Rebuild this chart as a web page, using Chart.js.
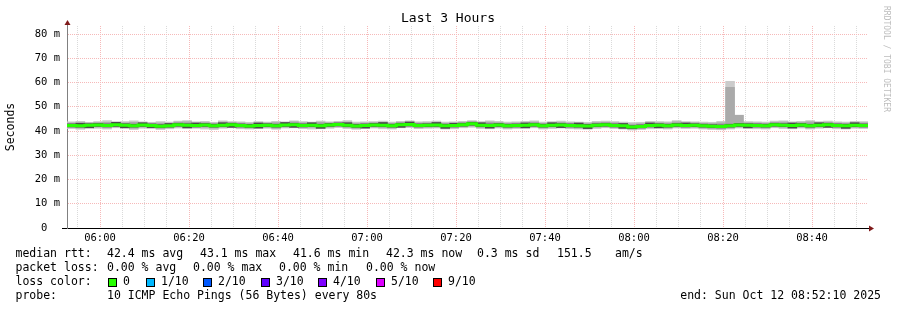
<!DOCTYPE html>
<html>
<head>
<meta charset="utf-8">
<script src="https://cdn.jsdelivr.net/npm/chart.js@4/dist/chart.umd.min.js"></script>
<style>
  html, body { margin: 0; padding: 0; background: #fff; }
  canvas { display: block; }
</style>
</head>
<body>
<canvas id="smokeChart" width="897" height="310"></canvas>
<script>
// time window (graph starts here, 3 hours long, one sample every 2 minutes)
const startTime = '05:52:35';
const spanMinutes = 180;
const stepMinutes = 2;
const xTickLabels = ['06:00', '06:20', '06:40', '07:00', '07:20', '07:40', '08:00', '08:20', '08:40'];
const yTickValues = [0, 10, 20, 30, 40, 50, 60, 70, 80];

// median rtt per step (ms)
const median = [
  42.3, 42.2, 42.4, 42.5, 42.3, 42.6, 42.4, 42.2, 42.5, 42.3,
  42.0, 42.2, 42.6, 42.4, 42.3, 42.5, 42.2, 42.4, 42.6, 42.3,
  42.1, 42.3, 42.4, 42.2, 42.5, 42.6, 42.3, 42.4, 42.2, 42.5,
  42.7, 42.4, 42.1, 42.3, 42.5, 42.4, 42.2, 42.6, 42.7, 42.3,
  42.4, 42.5, 42.2, 42.3, 42.6, 43.0, 42.4, 42.3, 42.5, 42.2,
  42.3, 42.4, 42.6, 42.2, 42.4, 42.5, 42.3, 42.2, 42.1, 42.4,
  42.6, 42.3, 42.2, 41.6, 41.9, 42.3, 42.4, 42.2, 42.5, 42.3,
  42.4, 42.2, 42.0, 41.9, 42.2, 42.5, 42.4, 42.3, 42.2, 42.6,
  42.4, 42.3, 42.5, 42.2, 42.4, 42.6, 42.3, 42.2, 42.4, 42.3
];
// smoke, outer (light): fastest / slowest ping per step (ms)
const smokeLow = [
  41.0, 40.7, 41.2, 41.1, 40.8, 41.3, 41.2, 40.6, 41.1, 41.0,
  40.6, 40.9, 41.2, 41.0, 41.1, 40.8, 40.6, 41.1, 41.3, 40.9,
  40.8, 41.0, 41.1, 40.7, 41.2, 41.3, 41.0, 40.8, 40.9, 41.1,
  41.4, 41.0, 40.7, 41.0, 41.2, 40.9, 40.8, 41.3, 41.4, 41.0,
  41.1, 41.2, 40.8, 40.9, 41.3, 41.5, 41.0, 40.9, 41.2, 40.8,
  41.0, 41.1, 41.3, 40.8, 41.0, 41.2, 40.9, 40.8, 40.7, 41.0,
  41.3, 41.0, 40.8, 40.4, 40.6, 40.9, 41.1, 40.8, 41.2, 41.0,
  41.1, 40.8, 40.6, 40.5, 40.8, 41.2, 41.0, 40.9, 40.8, 41.3,
  41.0, 40.9, 41.2, 40.8, 41.1, 41.3, 40.9, 40.8, 41.1, 41.0
];
const smokeHigh = [
  43.8, 44.0, 43.6, 43.9, 44.3, 43.8, 43.9, 44.2, 43.8, 43.6,
  43.9, 43.7, 44.1, 44.3, 43.8, 44.0, 43.6, 44.2, 43.9, 43.8,
  43.6, 43.9, 43.7, 44.0, 43.8, 44.2, 43.9, 43.7, 44.1, 43.8,
  44.0, 44.3, 43.7, 43.8, 43.9, 44.1, 43.7, 44.0, 44.2, 43.8,
  43.9, 44.1, 43.7, 43.8, 44.0, 44.3, 43.9, 44.2, 44.0, 43.7,
  43.8, 44.0, 44.2, 43.7, 43.9, 44.1, 43.8, 43.7, 43.6, 44.0,
  44.1, 43.9, 43.7, 43.5, 43.6, 44.0, 43.9, 43.8, 44.3, 43.9,
  43.8, 43.7, 43.6, 44.0, 60.5, 46.5, 43.9, 43.8, 43.7, 44.1,
  44.2, 43.8, 44.0, 44.3, 43.9, 44.1, 43.8, 43.7, 44.0, 43.9
];
// smoke, middle band
const midLow = [
  41.4, 41.2, 41.5, 41.6, 41.3, 41.7, 41.5, 41.1, 41.6, 41.4,
  41.0, 41.3, 41.7, 41.4, 41.4, 41.5, 41.2, 41.5, 41.7, 41.3,
  41.2, 41.4, 41.5, 41.1, 41.6, 41.7, 41.3, 41.5, 41.2, 41.6,
  41.8, 41.4, 41.1, 41.4, 41.6, 41.4, 41.2, 41.7, 41.8, 41.3,
  41.5, 41.6, 41.2, 41.3, 41.7, 42.0, 41.4, 41.3, 41.6, 41.2,
  41.4, 41.5, 41.7, 41.2, 41.5, 41.6, 41.3, 41.2, 41.1, 41.5,
  41.7, 41.4, 41.2, 40.8, 41.0, 41.4, 41.5, 41.2, 41.6, 41.4,
  41.5, 41.2, 41.0, 40.9, 41.2, 41.6, 41.5, 41.4, 41.2, 41.7,
  41.5, 41.4, 41.6, 41.2, 41.5, 41.7, 41.4, 41.2, 41.5, 41.4
];
const midHigh = [
  43.3, 43.4, 43.3, 43.5, 43.6, 43.5, 43.4, 43.6, 43.4, 43.2,
  43.3, 43.2, 43.7, 43.8, 43.3, 43.5, 43.2, 43.7, 43.5, 43.3,
  43.1, 43.4, 43.3, 43.5, 43.4, 43.8, 43.4, 43.3, 43.6, 43.4,
  43.6, 43.7, 43.2, 43.3, 43.5, 43.6, 43.2, 43.6, 43.8, 43.3,
  43.4, 43.6, 43.2, 43.3, 43.6, 43.9, 43.4, 43.7, 43.5, 43.2,
  43.3, 43.5, 43.7, 43.2, 43.4, 43.6, 43.3, 43.2, 43.1, 43.5,
  43.6, 43.4, 43.2, 42.9, 43.0, 43.5, 43.4, 43.3, 43.8, 43.4,
  43.4, 43.2, 43.1, 43.4, 58.0, 46.5, 43.4, 43.3, 43.2, 43.6,
  43.7, 43.3, 43.5, 43.8, 43.4, 43.6, 43.3, 43.2, 43.5, 43.4
];
// smoke, core (dark) band
const darkLow = [
  41.7, 41.6, 41.3, 41.9, 41.7, 41.9, 41.3, 41.6, 41.9, 41.4,
  41.4, 41.6, 42.0, 41.3, 41.7, 41.9, 41.6, 41.8, 41.5, 41.7,
  41.5, 41.2, 41.8, 41.6, 41.9, 41.5, 41.7, 41.8, 41.1, 41.9,
  42.1, 41.8, 41.5, 41.2, 41.9, 41.8, 41.6, 41.5, 42.1, 41.7,
  41.8, 41.9, 41.1, 41.7, 42.0, 42.4, 41.8, 41.2, 41.9, 41.6,
  41.7, 41.3, 42.0, 41.6, 41.8, 41.4, 41.7, 41.6, 41.0, 41.8,
  42.0, 41.7, 41.1, 41.0, 41.3, 41.7, 41.3, 41.6, 41.9, 41.7,
  41.8, 41.6, 41.4, 41.3, 41.6, 41.9, 41.3, 41.7, 41.6, 42.0,
  41.8, 41.2, 41.9, 41.6, 41.8, 41.5, 41.7, 41.1, 41.8, 41.7
];
const darkHigh = [
  42.9, 43.2, 43.0, 43.1, 42.9, 43.6, 43.0, 42.8, 43.4, 42.9,
  42.6, 43.1, 43.2, 43.0, 43.3, 43.1, 42.8, 43.4, 43.2, 42.9,
  42.7, 43.3, 43.0, 42.8, 43.5, 43.2, 42.9, 43.4, 42.8, 43.1,
  43.3, 43.4, 42.7, 42.9, 43.1, 43.5, 42.8, 43.2, 43.7, 42.9,
  43.0, 43.5, 42.8, 43.2, 43.2, 43.6, 43.4, 42.9, 43.1, 42.8,
  42.9, 43.3, 43.2, 42.8, 43.4, 43.1, 42.9, 43.3, 42.7, 43.0,
  43.2, 42.9, 43.1, 42.2, 42.5, 43.3, 43.0, 42.8, 43.1, 43.3,
  43.0, 42.8, 42.6, 42.5, 42.8, 43.1, 43.0, 42.9, 42.8, 43.2,
  43.0, 43.3, 43.1, 42.8, 43.4, 43.2, 42.9, 42.8, 43.4, 42.9
];

// legend texts
const rttStats = ['42.4 ms avg', '43.1 ms max', '41.6 ms min', '42.3 ms now', '0.3 ms sd', '151.5', 'am/s'];
const lossStats = ['0.00 % avg', '0.00 % max', '0.00 % min', '0.00 % now'];
const lossLevels = ['0', '1/10', '2/10', '3/10', '4/10', '5/10', '9/10'];
const lossColors = ['#26ff00', '#00b8ff', '#0059ff', '#5e00ff', '#7e00ff', '#dd00ff', '#ff0000'];
const probeText = '10 ICMP Echo Pings (56 Bytes) every 80s';
const endText = 'end: Sun Oct 12 08:52:10 2025';

const MONO = '"DejaVu Sans Mono", monospace';

function clockToMin(s) {
  const p = s.split(':').map(Number);
  return p[0] * 60 + p[1] + (p[2] || 0) / 60;
}
const startMin = clockToMin(startTime);

// grid every 5 minutes of clock time
const xGrid = [];
for (let m = Math.ceil(startMin / 5) * 5; m <= startMin + spanMinutes; m += 5) xGrid.push(m - startMin);
const labelAt = {};
xTickLabels.forEach(l => { labelAt[(clockToMin(l) - startMin).toFixed(3)] = l; });

const band = (lo, hi) => median.map((v, i) => ({ x: i * stepMinutes + stepMinutes / 2, y: [lo[i], hi[i]] }));
const medianPts = median.map((v, i) => ({ x: i * stepMinutes, y: v }));
medianPts.push({ x: spanMinutes, y: median[median.length - 1] });

const GRID_MAJOR = '#f6b9b9';
const GRID_MINOR = '#dadada';

const smokeStyle = { borderWidth: 0, grouped: false, barPercentage: 1, categoryPercentage: 1 };

const decor = {
  id: 'decor',
  afterDraw(chart) {
    const c = chart.ctx;
    const a = chart.chartArea;
    c.save();

    // axis extensions and arrows
    c.strokeStyle = '#808080';
    c.lineWidth = 1;
    c.beginPath();
    c.moveTo(a.left + 0.5, a.top);
    c.lineTo(a.left + 0.5, a.top - 4);
    c.stroke();
    c.strokeStyle = '#000';
    c.beginPath();
    c.moveTo(a.left - 5, a.bottom + 0.5);
    c.lineTo(a.left, a.bottom + 0.5);
    c.stroke();

    c.fillStyle = '#7f1a1a';
    c.beginPath();
    c.moveTo(a.left + 0.5, a.top - 6);
    c.lineTo(a.left - 2.5, a.top - 1);
    c.lineTo(a.left + 3.5, a.top - 1);
    c.closePath();
    c.fill();
    c.beginPath();
    c.moveTo(a.right + 6, a.bottom + 0.5);
    c.lineTo(a.right + 1, a.bottom - 2.5);
    c.lineTo(a.right + 1, a.bottom + 3.5);
    c.closePath();
    c.fill();

    // title
    c.fillStyle = '#000';
    c.textAlign = 'center';
    c.textBaseline = 'middle';
    c.font = '13px ' + MONO;
    c.fillText('Last 3 Hours', 448, 19);

    // y axis title
    c.save();
    c.translate(11, 127);
    c.rotate(-Math.PI / 2);
    c.font = '11.5px ' + MONO;
    c.fillText('Seconds', 0, 0);
    c.restore();

    // watermark
    c.save();
    c.translate(886, 59);
    c.rotate(Math.PI / 2);
    c.fillStyle = '#bdbdbd';
    c.font = '8px ' + MONO;
    c.fillText('RRDTOOL / TOBI OETIKER', 0, 0);
    c.restore();

    // legend
    c.textAlign = 'left';
    c.font = '11.5px ' + MONO;
    const y1 = 254.5, y2 = 268.5, y3 = 282.5, y4 = 296.5;
    c.fillText('median rtt:', 15.5, y1);
    [107, 200, 293, 386, 477, 557, 615].forEach((x, i) => c.fillText(rttStats[i], x, y1));
    c.fillText('packet loss:', 15.5, y2);
    [107, 193, 279, 366].forEach((x, i) => c.fillText(lossStats[i], x, y2));
    c.fillText('loss color:', 15.5, y3);
    [108, 146, 203, 261, 318, 376, 433].forEach((x, i) => {
      c.fillStyle = lossColors[i];
      c.fillRect(x, y3 - 4.5, 9, 9);
      c.strokeStyle = '#000';
      c.lineWidth = 1;
      c.strokeRect(x + 0.5, y3 - 4, 8, 8);
      c.fillStyle = '#000';
      c.fillText(lossLevels[i], x + 15, y3);
    });
    c.fillText('probe:', 15.5, y4);
    c.fillText(probeText, 107, y4);
    c.textAlign = 'right';
    c.fillText(endText, 881, y4);

    c.restore();
  }
};

new Chart(document.getElementById('smokeChart').getContext('2d'), {
  type: 'bar',
  data: {
    datasets: [
      {
        type: 'line',
        data: medianPts,
        borderColor: '#26ff00',
        borderWidth: 3,
        pointRadius: 0,
        stepped: true,
        borderCapStyle: 'butt',
        order: 1
      },
      Object.assign({ data: band(darkLow, darkHigh), backgroundColor: '#4a4a4a', order: 2 }, smokeStyle),
      Object.assign({ data: band(midLow, midHigh), backgroundColor: '#aaaaaa', order: 3 }, smokeStyle),
      Object.assign({ data: band(smokeLow, smokeHigh), backgroundColor: '#cbcbcb', order: 4 }, smokeStyle)
    ]
  },
  options: {
    responsive: false,
    animation: false,
    events: [],
    layout: { padding: { top: 26, right: 29, left: 0, bottom: 0 } },
    plugins: { legend: { display: false }, tooltip: { enabled: false } },
    scales: {
      x: {
        type: 'linear',
        min: 0,
        max: spanMinutes,
        offset: false,
        afterFit: s => { s.height = 82; },
        afterBuildTicks: s => { s.ticks = xGrid.map(v => ({ value: v })); },
        grid: {
          offset: false,
          drawTicks: false,
          lineWidth: 1,
          color: ctx => {
            const v = ctx.tick ? ctx.tick.value : 0;
            return Math.round(startMin + v) % 20 === 0 ? GRID_MAJOR : GRID_MINOR;
          }
        },
        border: { display: true, color: '#000', width: 1, dash: [1, 1] },
        ticks: {
          autoSkip: false,
          maxRotation: 0,
          padding: 4,
          color: '#000',
          font: { family: MONO, size: 10.5 },
          callback: v => labelAt[v.toFixed(3)] || ''
        }
      },
      y: {
        min: 0,
        max: 83.3,
        afterFit: s => { s.width = 67; },
        afterBuildTicks: s => {
          const t = [];
          for (let v = 0; v <= 80; v += 5) t.push({ value: v });
          s.ticks = t;
        },
        grid: {
          drawTicks: false,
          lineWidth: 1,
          color: ctx => (ctx.tick && ctx.tick.value % 10 === 0) ? GRID_MAJOR : GRID_MINOR
        },
        border: { display: true, color: '#808080', width: 1, dash: [1, 1] },
        ticks: {
          padding: 7,
          color: '#000',
          font: { family: MONO, size: 10.5 },
          callback: v => yTickValues.includes(v) ? (v === 0 ? '0  ' : v + ' m') : ''
        }
      }
    }
  },
  plugins: [decor]
});
</script>
</body>
</html>
